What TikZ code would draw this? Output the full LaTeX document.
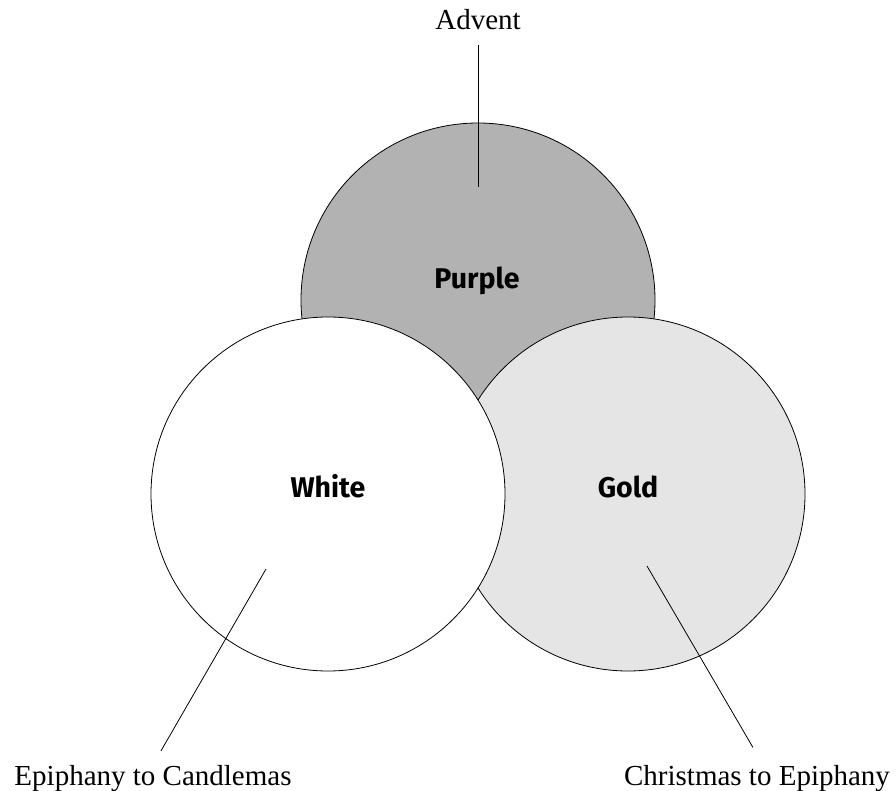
\documentclass[tikz,border=0pt]{standalone}
\usepackage{fontspec}
\setmainfont{Liberation Serif}
\newfontfamily\colourfont{Fira Sans}
\usepackage{tikz}
\usetikzlibrary{positioning}

\definecolor{purplegrey}{gray}{0.70}
\definecolor{goldgrey}{gray}{0.90}

\begin{document}
\begin{tikzpicture}[x=1pt, y=-1pt,
    disc/.style={draw, circle, line width=0.8pt, minimum size=354pt, inner sep=0pt},
    colour/.style={anchor=base, inner sep=0pt, font=\colourfont\bfseries\fontsize{28.5}{33}\selectfont},
    season/.style={anchor=base, inner sep=0pt, font=\fontsize{29}{34}\selectfont},
    leader/.style={line width=0.8pt}]
    \useasboundingbox (0,0) rectangle (896,791);
    % the three circles, white on top
    \node[disc, fill=purplegrey](purple) at (478,300) {};
    \node[disc, fill=goldgrey](gold) at (628,494) {};
    \node[disc, fill=white](white) at (328,494) {};
    \node[colour](purplel) at (477,289) {Purple};
    \node[colour](whitel) at (328,497) {White};
    \node[colour](goldl) at (628,497) {Gold};
    % seasons
    \node[season](advent) at (478,30) {Advent};
    \node[season](epiphany) at (153,785) {Epiphany to Candlemas};
    \node[season](christmas) at (757,785) {Christmas to Epiphany};
    \coordinate (adventtip) at (478,187);
    \coordinate (whitetip) at (266,569);
    \coordinate (goldtip) at (647,566);
    \draw[leader, shorten <=15pt] (advent.south) -- (adventtip);
    \draw[leader, shorten >=16pt] (whitetip) -- (epiphany.north);
    \draw[leader, shorten >=20pt] (goldtip) -- ([xshift=6pt]christmas.north);
\end{tikzpicture}
\end{document}
